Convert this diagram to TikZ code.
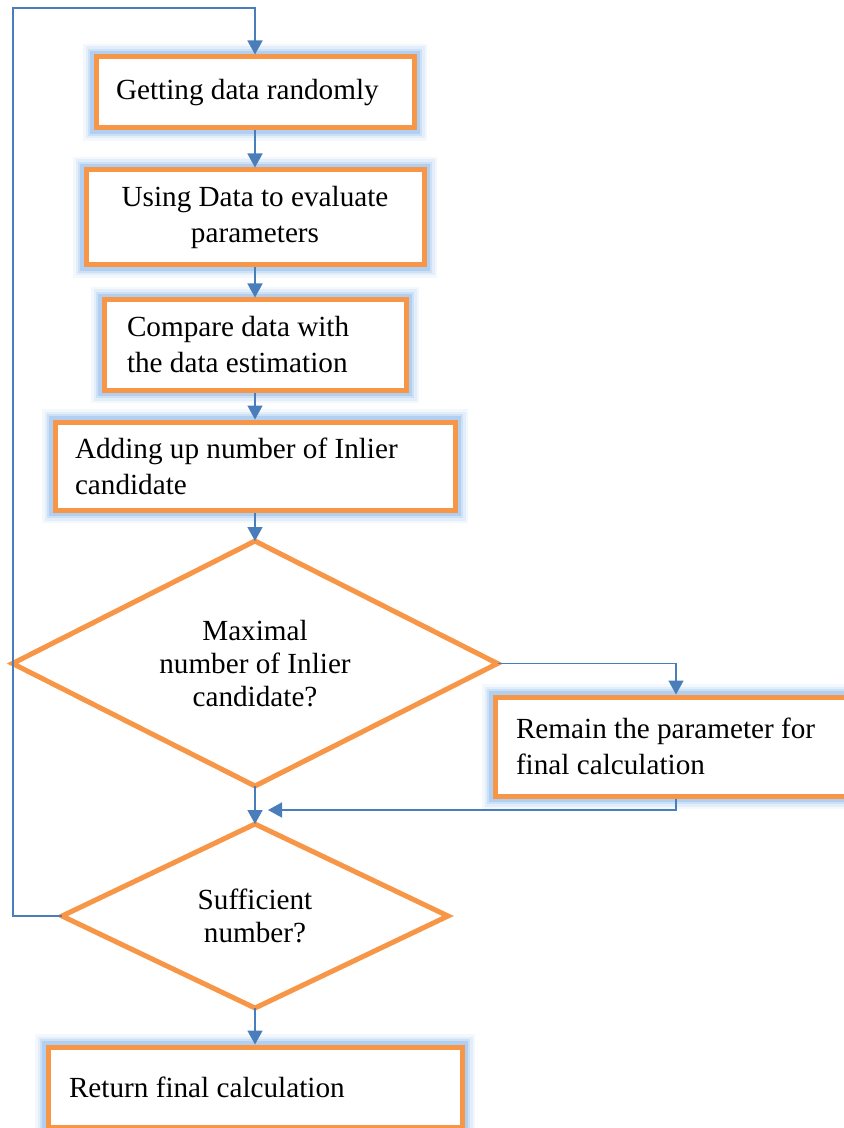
\documentclass[tikz,border=0pt]{standalone}
\usepackage{fontspec}
\setmainfont{Liberation Serif}
\usepackage{tikz}
\usetikzlibrary{shapes.geometric,arrows.meta,positioning,calc}

\definecolor{boxorange}{HTML}{F79646}
\definecolor{flowblue}{HTML}{4A7EBB}
\definecolor{glowblue}{HTML}{9CC3EE}

\begin{document}
\begin{tikzpicture}[x=0.5pt, y=-0.5pt,
    procbox/.style={rectangle, draw=boxorange, line width=2.5pt, fill=white, inner ysep=0pt,
        font=\fontsize{14.6pt}{18pt}\selectfont,
        preaction={draw=glowblue!12, line width=13pt},
        preaction={draw=glowblue!28, line width=10.5pt},
        preaction={draw=glowblue!50, line width=8pt},
        preaction={draw=glowblue!80, line width=6pt}},
    decision/.style={diamond, aspect=2, draw=boxorange, line width=2.5pt, inner sep=0pt, outer sep=0pt, align=center,
        font=\fontsize{14.6pt}{16.5pt}\selectfont},
    flow/.style={draw=flowblue, line width=0.8pt, -{Triangle[length=7pt,width=7.5pt]}}]
    \useasboundingbox (0,0) rectangle (844,1128);
    \clip (0,0) rectangle (844,1128);

    % Process boxes
    \node[procbox, text width=139pt, inner xsep=10pt, minimum height=35.5pt, align=flush left] (get) at (255,92.5) {Getting data randomly};
    \node[procbox, text width=149pt, inner xsep=10pt, minimum height=47.5pt, align=flush center] (use) at (255,217.5) {Using Data to evaluate\\parameters};
    \node[procbox, text width=128pt, inner xsep=11.5pt, minimum height=45pt, align=flush left] (comp) at (255,345) {Compare data with\\the data estimation};
    \node[procbox, text width=180pt, inner xsep=10pt, minimum height=44pt, align=flush left] (add) at (255,466) {Adding up number of Inlier\\candidate};

    % Decisions
    \node[decision, minimum width=242.5pt, minimum height=122.5pt] (maxi) at (255,663.5) {Maximal\\number of Inlier\\candidate?};
    \node[procbox, text width=160pt, inner xsep=10.5pt, minimum height=49.5pt, align=flush left] (keep) at (676,746.5) {Remain the parameter for\\final calculation};
    \node[decision, minimum width=193pt, minimum height=92pt] (suff) at (255,916) {Sufficient\\number?};

    % Result
    \node[procbox, text width=186pt, inner xsep=10.5pt, minimum height=40pt, align=flush left] (ret) at (255,1087) {Return final calculation};

    % Arrows
    \draw[flow] (get) -- (use);
    \draw[flow] (use) -- (comp);
    \draw[flow] (comp) -- (add);
    \draw[flow] (add) -- (maxi);
    \draw[flow] (maxi) -- (suff);
    \draw[flow] (suff) -- (ret);
    \draw[flow] (maxi.east) -| (keep.north);
    \coordinate (merge) at (268,810);
    \draw[flow] (keep.south) |- (merge);
    \coordinate (looptop) at (13,8);
    \draw[flow] (suff.west) -| (looptop) -| (get.north);
\end{tikzpicture}
\end{document}
